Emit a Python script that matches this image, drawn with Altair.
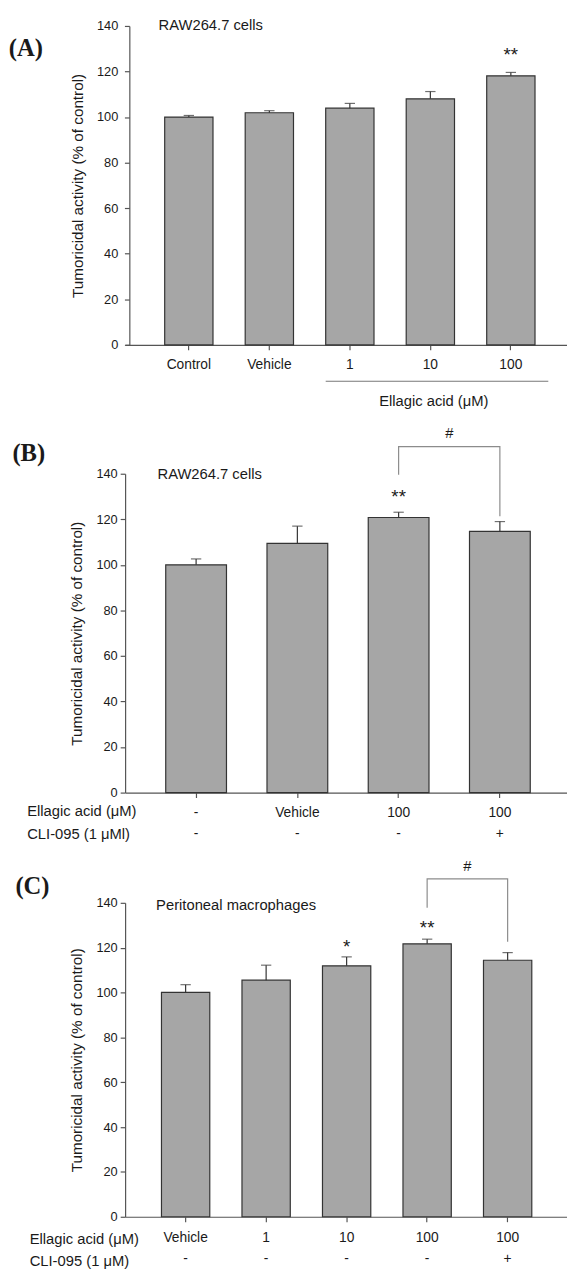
import altair as alt
import pandas as pd

FONT = "Liberation Sans"
SERIF = "Liberation Serif"
BAR = "#a6a6a6"
EDGE = "#333333"
AXIS = "#555555"
INK = "#1a1a1a"
BRACKET = "#8c8c8c"
YTITLE = "Tumoricidal activity (% of control)"

# ---------------- data ----------------
# Panel A
a_cats = ["Control", "Vehicle", "1", "10", "100"]
a_vals = [100.0, 101.9, 103.9, 108.0, 118.1]
a_errs = [0.7, 0.9, 2.1, 3.2, 1.5]
a_sig_cat = ["100"]
a_sig_text = ["**"]
a_sig_y = [127.4]

# Panel B
b_ellagic = ["-", "Vehicle", "100", "100"]
b_cli = ["-", "-", "-", "+"]
b_vals = [100.0, 109.4, 120.8, 114.7]
b_errs = [2.6, 7.6, 2.3, 4.3]
b_sig_idx = [2]
b_sig_text = ["**"]
b_sig_y = [129.8]
b_bracket_idx = [2, 2, 3, 3]
b_bracket_y = [139.6, 151.9, 151.9, 121.3]
b_hash_y = 158.0

# Panel C
c_ellagic = ["Vehicle", "1", "10", "100", "100"]
c_cli = ["-", "-", "-", "-", "+"]
c_vals = [100.1, 105.5, 111.9, 121.7, 114.4]
c_errs = [3.4, 6.7, 4.0, 2.1, 3.4]
c_sig_idx = [2, 3]
c_sig_text = ["*", "**"]
c_sig_y = [120.3, 128.8]
c_bracket_idx = [3, 3, 4, 4]
c_bracket_y = [137.8, 150.7, 150.7, 122.7]
c_hash_y = 156.4

W = 449
YSCALE = alt.Scale(domain=[0, 140], nice=False)


def yaxis(offset, label_pad, title_pad):
    return alt.Axis(values=[0, 20, 40, 60, 80, 100, 120, 140], offset=offset,
                    tickSize=5, labelPadding=label_pad, titlePadding=title_pad,
                    labelFontSize=13, titleFontSize=15.5, titleFontWeight="normal",
                    domainColor=AXIS, tickColor=AXIS, domainWidth=1.2, tickWidth=1.2,
                    labelColor=INK, titleColor=INK, grid=False)


def panel(keys, vals, errs, xscale, xaxis, yax, height, extra_layers):
    df = pd.DataFrame({"cat": keys, "val": vals,
                       "top": [v + e for v, e in zip(vals, errs)]})

    def X(**kw):
        return alt.X("cat:N", scale=xscale, axis=xaxis, title=None, **kw)

    def Y(field):
        return alt.Y(field, scale=YSCALE, axis=yax, title=YTITLE)

    base = alt.Chart(df)
    bars = base.mark_bar(color=BAR, stroke=EDGE, strokeWidth=1.2).encode(x=X(), y=Y("val:Q"))
    err = base.mark_rule(color=EDGE, strokeWidth=1.2).encode(x=X(), y=Y("val:Q"), y2="top:Q")
    cap = base.mark_tick(color=EDGE, size=10.5, thickness=1.2).encode(x=X(), y=Y("top:Q"))
    layers = [bars, err, cap] + [f(X, Y) for f in extra_layers]
    return alt.layer(*layers).properties(width=W, height=height)


def text_layer(df, xfield_fn, yfield, size, **mk):
    def f(X, Y):
        enc = {"text": "t:N"}
        enc["x"] = xfield_fn(X)
        enc["y"] = Y(yfield) if isinstance(yfield, str) else yfield
        return alt.Chart(df).mark_text(font=FONT, fontSize=size, color=INK, **mk).encode(**enc)
    return f


def fixed_text(text, x, y, size, font=FONT, weight="normal", align="left"):
    def f(X, Y):
        return alt.Chart(pd.DataFrame({"t": [text]})).mark_text(
            font=font, fontSize=size, fontWeight=weight, color=INK, align=align,
            baseline="middle").encode(x=alt.value(x), y=alt.value(y), text="t:N")
    return f


# ---------------- panel A ----------------
a_xscale = alt.Scale(domain=a_cats, paddingInner=0.4, paddingOuter=0.4445, align=0.553)
a_xaxis = alt.Axis(labelFontSize=14, labelPadding=8, tickSize=5, labelAngle=0,
                   domainColor=AXIS, tickColor=AXIS, domainWidth=1.2, tickWidth=1.2,
                   labelColor=INK, grid=False)
a_sig_df = pd.DataFrame({"cat": a_sig_cat, "t": a_sig_text, "y": a_sig_y})
a_line_df = pd.DataFrame({"cat": ["1"], "cat2": ["100"]})
a_note_df = pd.DataFrame({"cat": ["10"], "t": ["Ellagic acid (μM)"]})


def a_rule(X, Y):
    return alt.Chart(a_line_df).mark_rule(color="#777777", strokeWidth=1.2, x2Offset=13.5).encode(
        x=X(bandPosition=0), x2=alt.X2("cat2:N", bandPosition=1), y=alt.value(361))


def a_note(X, Y):
    return alt.Chart(a_note_df).mark_text(font=FONT, fontSize=15, color=INK, dx=3.5).encode(
        x=X(), y=alt.value(381.6), text="t:N")


chart_a = panel(
    a_cats, a_vals, a_errs, a_xscale, a_xaxis, yaxis(-4.3, 6.7, 11.5), 324,
    [text_layer(a_sig_df, lambda X: X(), "y:Q", 19),
     a_rule, a_note,
     fixed_text("RAW264.7 cells", 34, -0.7, 15),
     fixed_text("(A)", -118.2, 22.3, 25, SERIF, "bold")])

# ---------------- panel B ----------------
b_keys = [f"{e}|{c}|{i}" for i, (e, c) in enumerate(zip(b_ellagic, b_cli))]
b_xscale = alt.Scale(domain=b_keys, paddingInner=0.4, paddingOuter=0.382, align=0.525)
bc_xaxis = alt.Axis(labels=False, tickSize=5, domainColor=AXIS, tickColor=AXIS,
                    domainWidth=1.2, tickWidth=1.2, grid=False)
b_rows = pd.DataFrame({"cat": b_keys, "e": b_ellagic, "c": b_cli})
b_sig_df = pd.DataFrame({"cat": [b_keys[i] for i in b_sig_idx], "t": b_sig_text, "y": b_sig_y})
b_br_df = pd.DataFrame({"cat": [b_keys[i] for i in b_bracket_idx], "y": b_bracket_y,
                        "o": list(range(len(b_bracket_y)))})
b_hash_df = pd.DataFrame({"cat": [b_keys[2]], "t": ["#"], "y": [b_hash_y]})


def row_text(rows, field, ypix, size=14):
    def f(X, Y):
        return alt.Chart(rows).mark_text(font=FONT, fontSize=size, color=INK).encode(
            x=X(), y=alt.value(ypix), text=f"{field}:N")
    return f


def bracket(df):
    def f(X, Y):
        return alt.Chart(df).mark_line(color=BRACKET, strokeWidth=1.2).encode(
            x=X(), y=Y("y:Q"), order="o:Q")
    return f


def hash_text(df, dx):
    def f(X, Y):
        return alt.Chart(df).mark_text(font=FONT, fontSize=15, color=INK, dx=dx).encode(
            x=X(), y=Y("y:Q"), text="t:N")
    return f


chart_b = panel(
    b_keys, b_vals, b_errs, b_xscale, bc_xaxis, yaxis(0, 3, 11.5), 324,
    [text_layer(b_sig_df, lambda X: X(), "y:Q", 19),
     bracket(b_br_df), hash_text(b_hash_df, 51.5),
     row_text(b_rows, "e", 344.3), row_text(b_rows, "c", 366.3),
     fixed_text("Ellagic acid (μM)", -99.5, 342.3, 15),
     fixed_text("CLI-095 (1 μMl)", -99.5, 366.3, 15),
     fixed_text("RAW264.7 cells", 32.9, 0.7, 15),
     fixed_text("(B)", -114.5, -21, 25, SERIF, "bold")])

# ---------------- panel C ----------------
c_keys = [f"{e}|{c}|{i}" for i, (e, c) in enumerate(zip(c_ellagic, c_cli))]
c_xscale = alt.Scale(domain=c_keys, paddingInner=0.4, paddingOuter=0.4445, align=0.508)
c_rows = pd.DataFrame({"cat": c_keys, "e": c_ellagic, "c": c_cli})
c_sig_df = pd.DataFrame({"cat": [c_keys[i] for i in c_sig_idx], "t": c_sig_text, "y": c_sig_y})
c_br_df = pd.DataFrame({"cat": [c_keys[i] for i in c_bracket_idx], "y": c_bracket_y,
                        "o": list(range(len(c_bracket_y)))})
c_hash_df = pd.DataFrame({"cat": [c_keys[3]], "t": ["#"], "y": [c_hash_y]})

chart_c = panel(
    c_keys, c_vals, c_errs, c_xscale, bc_xaxis, yaxis(0, 3, 11.5), 319,
    [text_layer(c_sig_df, lambda X: X(), "y:Q", 19),
     bracket(c_br_df), hash_text(c_hash_df, 40.9),
     row_text(c_rows, "e", 340.5), row_text(c_rows, "c", 361.8),
     fixed_text("Ellagic acid (μM)", -97, 341.3, 15),
     fixed_text("CLI-095 (1 μM)", -97, 364.3, 15),
     fixed_text("Peritoneal macrophages", 31.5, 2.3, 15),
     fixed_text("(C)", -111.5, -16.7, 25, SERIF, "bold")])

chart = alt.vconcat(chart_a, chart_b, chart_c, spacing=16).properties(
    padding=0
).configure_view(stroke=None).configure_axis(labelFont=FONT, titleFont=FONT)

chart.save("out.html", embed_options={"renderer": "svg", "actions": False})
